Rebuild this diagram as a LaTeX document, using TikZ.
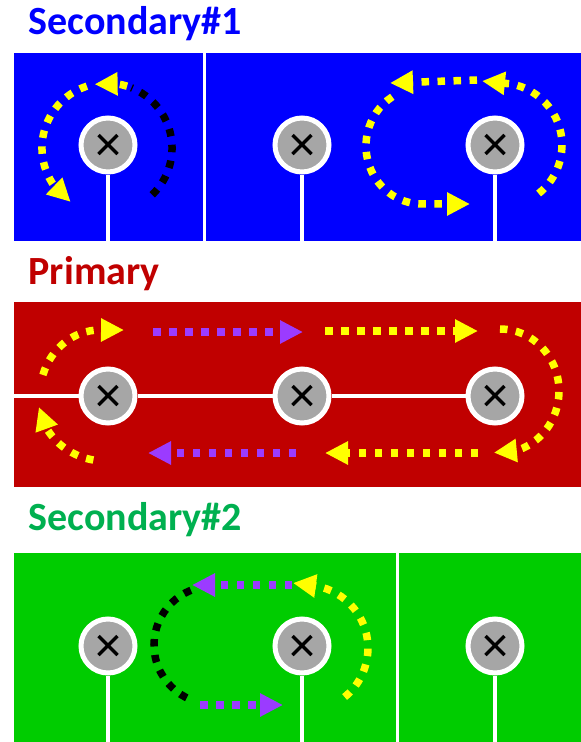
\documentclass[tikz,border=0pt]{standalone}
\usepackage{fontspec}
\setmainfont{Carlito}
\usetikzlibrary{arrows.meta,bending}
\definecolor{sblue}{HTML}{0000FF}
\definecolor{pred}{HTML}{C00000}
\definecolor{sgreen}{HTML}{00CC00}
\definecolor{tgreen}{HTML}{00B050}
\definecolor{hubgray}{HTML}{A6A6A6}
\definecolor{ylw}{HTML}{FFFF00}
\definecolor{prp}{HTML}{9B3BFF}
\tikzset{
 panel/.style={draw=none, inner sep=0pt, outer sep=0pt, anchor=north west, minimum width=567pt},
 hub/.style={circle, fill=hubgray, draw=white, line width=5pt, minimum size=54pt, inner sep=0pt,
   path picture={\draw[black,line width=3.5pt]
     ([shift={(-9.5pt,-9pt)}]path picture bounding box.center) -- ([shift={(9.5pt,10pt)}]path picture bounding box.center)
     ([shift={(-9.5pt,10pt)}]path picture bounding box.center) -- ([shift={(9.5pt,-9pt)}]path picture bounding box.center);}},
 stem/.style={white, line width=4pt},
 divider/.style={white, line width=3pt},
 flowplain/.style={line width=7.5pt, dash pattern=on 7.5pt off 8.5pt},
 flow/.style={flowplain, -{Triangle[length=23pt,width=22pt]}},
 title/.style={font=\bfseries\fontsize{40}{44}\selectfont, anchor=base west, inner sep=0pt},
}
\begin{document}
\begin{tikzpicture}[x=1pt,y=1pt]
\useasboundingbox (0,0) rectangle (581,-742);
% titles
\node[title, text=sblue] (t1) at (28.5,-34) {Secondary\#1};
\node[title, text=pred] (t2) at (28.5,-284) {Primary};
\node[title, text=tgreen] (t3) at (28.5,-530) {Secondary\#2};
% panels
\node[panel, fill=sblue, minimum height=188pt] (p1) at (14,-53) {};
\node[panel, fill=pred, minimum height=185pt] (p2) at (14,-302) {};
\node[panel, fill=sgreen, minimum height=189pt] (p3) at (14,-553) {};
% dividers
\coordinate (d1) at (204,-53);
\draw[divider] (d1) -- (d1 |- p1.south);
\coordinate (d3) at (397.5,-553);
\draw[divider] (d3) -- (d3 |- p3.south);
% hubs
\node[hub] (a1) at (108,-145) {};
\node[hub] (a2) at (302,-145) {};
\node[hub] (a3) at (495,-145) {};
\node[hub] (b1) at (108,-396) {};
\node[hub] (b2) at (302,-396) {};
\node[hub] (b3) at (495,-396) {};
\node[hub] (c1) at (108,-646) {};
\node[hub] (c2) at (302,-646) {};
\node[hub] (c3) at (495,-646) {};
% stems
\foreach \h in {a1,a2,a3} \draw[stem] (\h.south) -- (\h.south |- p1.south);
\foreach \h in {c1,c2,c3} \draw[stem] (\h.south) -- (\h.south |- p3.south);
\coordinate (ml) at (14,-396);
\draw[stem] (ml) -- (b1.west);
\draw[stem] (b1) -- (b2);
\draw[stem] (b2) -- (b3);
% ---- Secondary#1 flows
\draw[flowplain, black] (152.2,-194.8) arc[start angle=-46, end angle=68, radius=65pt];
\draw[flow, ylw] (127.1,-86.2) arc[start angle=72, end angle=101, radius=65pt];
\draw[flow, ylw] (86.9,-86.2) arc[start angle=108, end angle=236, radius=65pt];
\draw[flow, ylw] (538.6,-193.5) arc[start angle=-51.5, end angle=80, radius=62pt] -- (482,-81);
\draw[flow, ylw] (477,-80) -- (390,-83);
\draw[flow, ylw] (392.3,-96.8) arc[start angle=122, end angle=270, x radius=56pt, y radius=58pt] -- (470,-204);
% ---- Primary flows
\draw[flow, ylw] (42.9,-374.9) arc[start angle=162, end angle=90, x radius=60pt, y radius=65pt] -- (124,-330);
\draw[flow, prp] (153,-332) -- (303,-332);
\draw[flow, ylw] (325,-331) -- (478,-331);
\draw[flow, ylw] (500,-329) arc[start angle=90, end angle=-96, x radius=59pt, y radius=62pt];
\draw[flow, ylw] (478,-453) -- (325,-453);
\draw[flow, prp] (296,-453) -- (148,-453);
\draw[flow, ylw] (93.4,-460) arc[start angle=260, end angle=189, x radius=67pt, y radius=64pt];
% ---- Secondary#2 flows
\draw[flowplain, black] (190.9,-590.3) arc[start angle=112, end angle=248, radius=59pt];
\draw[flow, prp] (292,-585) -- (192,-585);
\draw[flow, ylw] (344.6,-697) arc[start angle=-51, end angle=80, radius=63pt] -- (293,-583);
\draw[flow, prp] (200,-705) -- (283,-705);
\end{tikzpicture}
\end{document}
